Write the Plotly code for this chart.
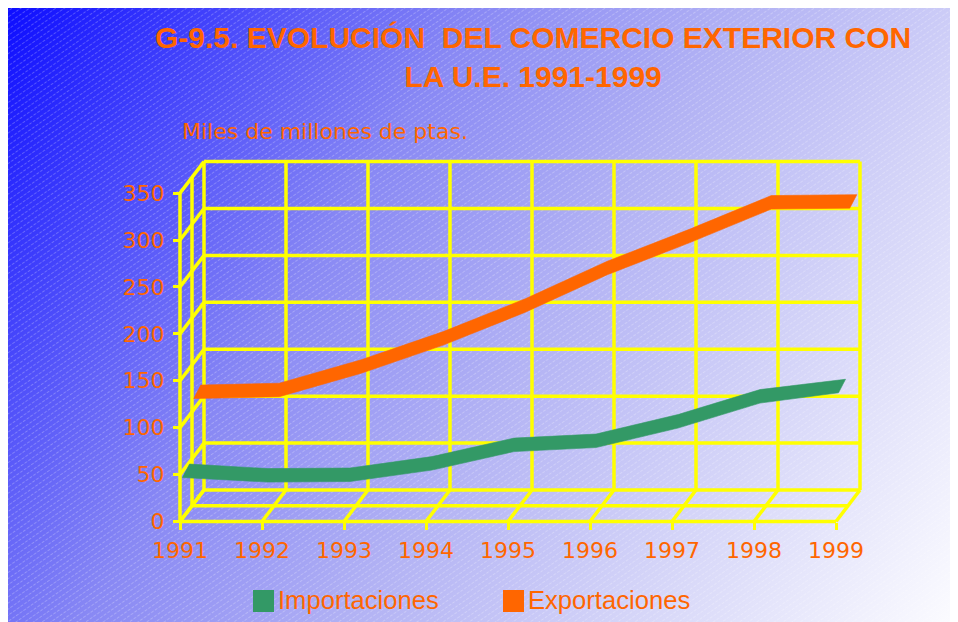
import base64
import plotly.graph_objects as go

# ---------------- data ----------------
years = ["1991", "1992", "1993", "1994", "1995", "1996", "1997", "1998", "1999"]
importaciones = [45.6, 40.8, 41.4, 53.6, 73.3, 77.6, 98.4, 125, 136]
exportaciones = [114, 116, 141, 171, 206, 246, 280, 316, 317]
y_ticks = [0, 50, 100, 150, 200, 250, 300, 350]

# ---------------- geometry (pixel calibration, page coordinates) ----------------
OFF = 8                                   # default HTML body margin
W_PX, H_PX = 958 - OFF, 622 - OFF         # figure size so the page fits the window
L, R, T, B = 150 - OFF, 900 - OFF, 130 - OFF, 550 - OFF   # plot area (figure px)
X0_PX, STEP_PX = 180.0 - OFF, 82.0
Y0_PX, UNIT_PX = 521.5 - OFF, 0.9383
DEPTH_DX_PX, DEPTH_DY_PX = 24.0, 31.5

DX = DEPTH_DX_PX / STEP_PX
DY = DEPTH_DY_PX / UNIT_PX
x_min, x_max = (L - X0_PX) / STEP_PX, (R - X0_PX) / STEP_PX
y_min, y_max = (Y0_PX - B) / UNIT_PX, (Y0_PX - T) / UNIT_PX
PW, PH = R - L, B - T


def px_x(p):
    """page pixel x -> paper fraction"""
    return (p - OFF - L) / PW


def px_y(p):
    """page pixel y -> paper fraction"""
    return (B - (p - OFF)) / PH


n = len(years)
xi = list(range(n))
ymax_tick = y_ticks[-1]
last = xi[-1]

# ---------------- grid (pseudo 3D walls) ----------------
gx, gy = [], []


def seg(x1, y1, x2, y2):
    gx.extend([x1, x2, None])
    gy.extend([y1, y2, None])


for v in y_ticks:
    seg(DX, v + DY, last + DX, v + DY)         # back wall horizontals
    seg(0, v, DX, v + DY)                      # side wall diagonals
for i in xi:
    seg(i + DX, DY, i + DX, ymax_tick + DY)    # back wall verticals
    seg(i, 0, i + DX, DY)                      # floor diagonals
seg(0, 0, last, 0)                             # front floor edge
seg(DX / 2, DY / 2, last + DX / 2, DY / 2)     # middle floor line (series rows)
seg(0, 0, 0, ymax_tick)                        # front vertical axis
seg(DX / 2, DY / 2, DX / 2, ymax_tick + DY / 2)  # middle side line

fig = go.Figure()
fig.add_trace(go.Scatter(x=gx, y=gy, mode="lines",
                         line=dict(color="#ffff00", width=3.5),
                         hoverinfo="skip", showlegend=False))

# ---------------- ribbons (each series in its own depth row) ----------------
HALF = 6.75 / UNIT_PX
END = 3.5 / STEP_PX


def ribbon(vals, color, name, depth):
    cx = [i + DX * depth for i in xi]
    cy = [v + DY * depth for v in vals]
    tx = [cx[k] + (END if k in (0, n - 1) else 0) for k in range(n)]
    ty = [cy[k] + HALF for k in range(n)]
    bx = [cx[k] - (END if k in (0, n - 1) else 0) for k in range(n)]
    by = [cy[k] - HALF for k in range(n)]
    fig.add_trace(go.Scatter(x=tx + bx[::-1] + [tx[0]], y=ty + by[::-1] + [ty[0]],
                             mode="lines", fill="toself", fillcolor=color,
                             line=dict(color=color, width=0.6),
                             name=name, hoverinfo="skip", showlegend=False))


ribbon(exportaciones, "#ff6600", "Exportaciones", 0.72)
ribbon(importaciones, "#339966", "Importaciones", 0.25)

# ---------------- background (gradient + hatch) ----------------
bw, bh = W_PX, H_PX
svg = f'''<svg xmlns="http://www.w3.org/2000/svg" width="{bw}" height="{bh}" viewBox="0 0 {bw} {bh}" preserveAspectRatio="none">
<defs>
<linearGradient id="g" gradientUnits="userSpaceOnUse" x1="-4" y1="0" x2="{bw}" y2="{bh}">
<stop offset="0" stop-color="#0c0cff"/>
<stop offset="0.15" stop-color="#4040fc"/>
<stop offset="0.35" stop-color="#8888f4"/>
<stop offset="0.55" stop-color="#b2b2f4"/>
<stop offset="0.75" stop-color="#d4d4f8"/>
<stop offset="1" stop-color="#fcfcff"/>
</linearGradient>
<pattern id="h" width="9" height="5" patternUnits="userSpaceOnUse" patternTransform="rotate(-35)">
<line x1="0" y1="2.5" x2="9" y2="2.5" stroke="#ffffff" stroke-width="0.8" stroke-dasharray="3 1.5" opacity="0.3"/>
</pattern>
</defs>
<rect x="0" y="0" width="{bw}" height="{bh}" fill="url(#g)"/>
<rect x="0" y="0" width="{bw}" height="{bh}" fill="url(#h)"/>
</svg>'''
src = "data:image/svg+xml;base64," + base64.b64encode(svg.encode("utf-8")).decode("ascii")

ORANGE = "#ff6600"

fig.update_layout(
    width=W_PX, height=H_PX,
    margin=dict(l=L, r=W_PX - R, t=T, b=H_PX - B, pad=0),
    paper_bgcolor="#ffffff", plot_bgcolor="rgba(0,0,0,0)",
    showlegend=False,
    images=[dict(source=src, xref="paper", yref="paper",
                 x=-L / PW, y=1 + T / PH, sizex=bw / PW, sizey=bh / PH,
                 xanchor="left", yanchor="top", sizing="stretch", layer="below")],
    xaxis=dict(range=[x_min, x_max], domain=[0, 1], anchor="free",
               position=(B - Y0_PX) / PH,
               tickvals=xi, ticktext=years, ticks="outside", ticklen=7, tickwidth=3,
               tickcolor="#ffff00", showgrid=False, zeroline=False, showline=False,
               tickfont=dict(family="DejaVu Sans", size=22, color=ORANGE),
               ticklabelstandoff=2, fixedrange=True),
    yaxis=dict(range=[y_min, y_max], domain=[0, 1], anchor="free",
               position=(X0_PX - L) / PW,
               tickvals=y_ticks, ticks="outside", ticklen=7, tickwidth=3,
               tickcolor="#ffff00", showgrid=False, zeroline=False, showline=False,
               tickfont=dict(family="DejaVu Sans", size=22, color=ORANGE),
               ticklabelstandoff=4, fixedrange=True),
    annotations=[
        dict(text="<b>G-9.5. EVOLUCIÓN\u00a0 DEL COMERCIO EXTERIOR CON<br>LA U.E. 1991-1999</b>",
             xref="paper", yref="paper", x=px_x(533), y=px_y(57),
             xanchor="center", yanchor="middle", showarrow=False,
             font=dict(family="Liberation Sans", size=30, color=ORANGE)),
        dict(text="Miles de millones de ptas.", xref="paper", yref="paper",
             x=px_x(180), y=px_y(131), xanchor="left", yanchor="middle", showarrow=False,
             font=dict(family="DejaVu Sans", size=22, color=ORANGE)),
        dict(text="Importaciones", xref="paper", yref="paper",
             x=px_x(276), y=px_y(600), xanchor="left", yanchor="middle", showarrow=False,
             font=dict(family="Liberation Sans", size=25.6, color=ORANGE)),
        dict(text="Exportaciones", xref="paper", yref="paper",
             x=px_x(526), y=px_y(600), xanchor="left", yanchor="middle", showarrow=False,
             font=dict(family="Liberation Sans", size=25.6, color=ORANGE)),
    ],
    shapes=[
        dict(type="rect", xref="paper", yref="paper", x0=px_x(253), x1=px_x(274),
             y0=px_y(612), y1=px_y(590), fillcolor="#339966", line=dict(width=0)),
        dict(type="rect", xref="paper", yref="paper", x0=px_x(503), x1=px_x(524),
             y0=px_y(612), y1=px_y(590), fillcolor=ORANGE, line=dict(width=0)),
    ],
)

fig.write_html("out.html")
